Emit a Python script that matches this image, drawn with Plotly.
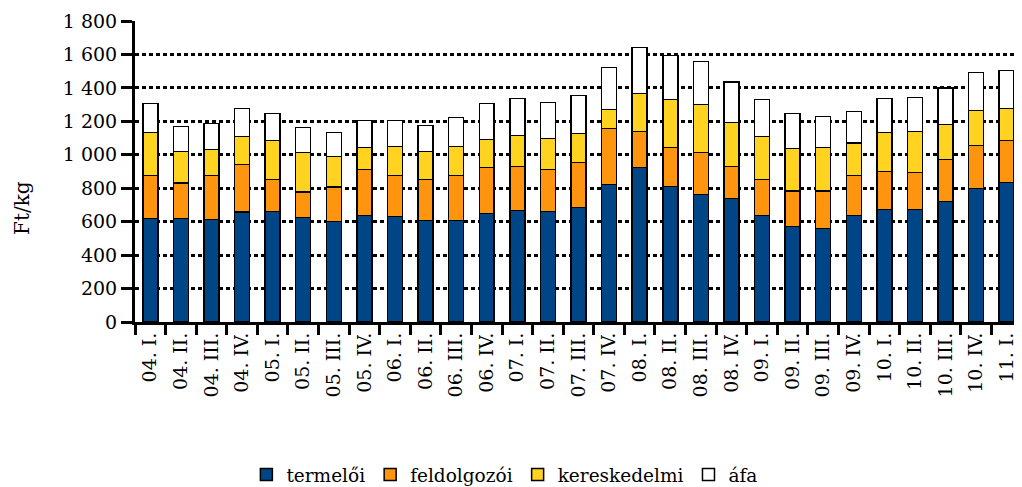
import plotly.graph_objects as go

categories = ["04. I.", "04. II.", "04. III.", "04. IV.",
              "05. I.", "05. II.", "05. III.", "05. IV.",
              "06. I.", "06. II.", "06. III.", "06. IV.",
              "07. I.", "07. II.", "07. III.", "07. IV.",
              "08. I.", "08. II.", "08. III.", "08. IV.",
              "09. I.", "09. II.", "09. III.", "09. IV.",
              "10. I.", "10. II.", "10. III.", "10. IV.",
              "11. I."]

termeloi = [620, 620, 614, 658, 662, 626, 602, 638, 632, 608, 608, 650,
            668, 662, 686, 823, 925, 811, 763, 739, 638, 572, 560, 638,
            674, 674, 722, 799, 835]
feldolgozoi = [257, 211, 263, 285, 191, 150, 204, 275, 245, 245, 269, 275,
               263, 251, 269, 335, 215, 234, 251, 192, 215, 210, 222, 239,
               227, 221, 251, 258, 251]
kereskedelmi = [255, 190, 156, 167, 233, 238, 185, 132, 174, 168, 174, 167,
                185, 185, 173, 114, 227, 286, 288, 263, 257, 257, 263, 192,
                233, 245, 209, 209, 192]
afa = [176, 149, 155, 168, 162, 150, 143, 161, 155, 155, 173, 216,
       222, 216, 228, 251, 276, 264, 257, 240, 222, 209, 185, 191,
       204, 204, 216, 227, 227]

series_names = ["termelői", "feldolgozói", "kereskedelmi", "áfa"]
series_values = [termeloi, feldolgozoi, kereskedelmi, afa]
series_colors = ["#004586", "#FF950E", "#FFD320", "#FFFFFF"]

y_tickvals = [0, 200, 400, 600, 800, 1000, 1200, 1400, 1600, 1800]
y_ticktext = ["0", "200", "400", "600", "800", "1 000", "1 200", "1 400", "1 600", "1 800"]

FONT = "DejaVu Serif, serif"

fig = go.Figure()
for name, vals, col in zip(series_names, series_values, series_colors):
    fig.add_trace(go.Bar(
        x=categories, y=vals, name=name,
        marker=dict(color=col, line=dict(color="black", width=1.5)),
    ))

fig.update_layout(
    barmode="stack",
    bargap=0.51,
    width=1014, height=479,
    margin=dict(l=127, r=0, t=13, b=165, autoexpand=False),
    paper_bgcolor="white", plot_bgcolor="white",
    font=dict(family=FONT, size=19, color="black"),
    showlegend=True,
    legend=dict(orientation="h", x=0.417, xanchor="center",
                y=-0.508, yanchor="middle", traceorder="normal",
                font=dict(family=FONT, size=18.5, color="black"),
                itemwidth=30),
    annotations=[dict(text="Ft/kg", xref="paper", yref="paper",
                      x=0, y=0.379, xshift=-113, textangle=-90,
                      showarrow=False, xanchor="center", yanchor="middle",
                      font=dict(family=FONT, size=20, color="black"))],
)

fig.update_xaxes(
    type="category",
    range=[-0.5, len(categories) - 0.5],
    showline=True, linecolor="black", linewidth=3,
    ticks="outside", tickson="boundaries", ticklen=10, tickwidth=3, tickcolor="black",
    tickangle=-90,
    tickfont=dict(family=FONT, size=19, color="black"),
    showgrid=False, zeroline=False,
)

fig.update_yaxes(
    range=[0, 1800],
    tickvals=y_tickvals, ticktext=y_ticktext,
    showline=True, linecolor="black", linewidth=3,
    ticks="outside", ticklen=11, tickwidth=2.5, tickcolor="black",
    tickfont=dict(family=FONT, size=19, color="black"),
    showgrid=True, gridcolor="black", gridwidth=2.5, griddash="4px,3px",
    zeroline=False,
)

fig.write_html("out.html")
